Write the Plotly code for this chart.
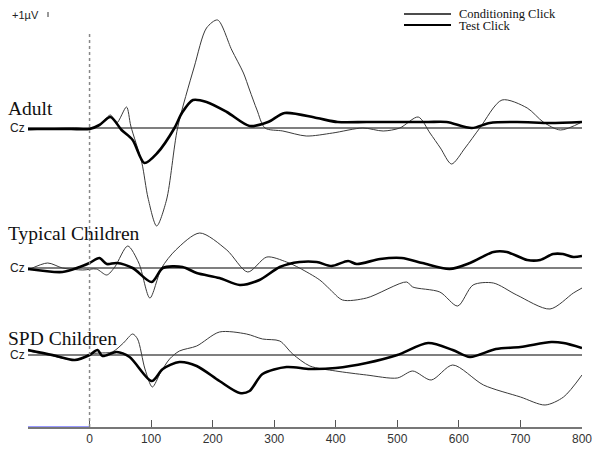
import plotly.graph_objects as go

# ---------------- data (time in ms, amplitude in µV relative to each baseline) -------------
adult_cond_t = [-100, -70, -40, -20, 0, 15, 34, 44, 60, 67, 85, 95, 109, 125, 143, 170, 190, 208, 231,
                250, 260, 272, 285, 314, 352, 395, 444, 477, 504, 534, 553, 570, 588, 610, 634, 670,
                711, 737, 765, 800]
adult_cond_v = [-0.2, -0.1, 0.0, 0.0, -0.1, 0.2, 1.3, 0.5, 2.1, 0.2, -3.5, -7.0, -9.8, -7.2, 0.0, 6.1,
                10.0, 10.8, 7.8, 5.5, 3.8, 1.8, 0.0, -0.3, -0.8, -0.5, 0.0, -0.3, 0.0, 1.1, -0.5, -2.0,
                -3.6, -2.0, 0.0, 2.8, 2.0, 0.6, -0.2, 0.6]

adult_test_t = [-100, -60, -30, 0, 16, 34, 52, 70, 89, 110, 138, 150, 168, 190, 223, 260, 290, 317,
                369, 403, 450, 500, 550, 580, 621, 650, 694, 748, 800]
adult_test_v = [-0.1, -0.1, -0.1, -0.1, 0.3, 1.1, -0.2, -1.2, -3.5, -2.5, 0.0, 1.5, 2.8, 2.6, 1.6, 0.2,
                0.6, 1.5, 1.0, 0.6, 0.6, 0.6, 0.6, 0.6, 0.0, 0.5, 0.6, 0.5, 0.6]

typ_cond_t = [-100, -68, -44, -11, 11, 28, 41, 62, 80, 98, 117, 140, 179, 223, 257, 288, 320, 341,
              374, 390, 411, 450, 515, 525, 569, 598, 623, 656, 694, 748, 786, 800]
typ_cond_v = [-0.2, 0.5, 0.0, -0.2, -0.1, -0.7, 0.1, 2.2, 0.5, -3.0, 0.0, 1.8, 3.5, 1.8, -0.4, 1.1,
              0.6, 0.0, -1.2, -2.1, -3.2, -3.0, -1.4, -1.9, -2.4, -3.8, -1.7, -1.5, -2.7, -4.1, -2.5,
              -2.0]

typ_test_t = [-100, -44, -16, 0, 16, 28, 44, 70, 101, 119, 151, 174, 211, 244, 276, 309, 341, 369,
              393, 420, 434, 472, 507, 541, 585, 618, 656, 678, 711, 732, 753, 769, 786, 800]
typ_test_v = [-0.1, -0.4, 0.1, 0.5, 1.0, 0.4, 0.5, 0.0, -1.4, 0.0, 0.1, -0.5, -1.0, -1.7, -1.2, 0.1,
              0.6, 0.6, 0.2, 0.7, 0.4, 0.9, 1.0, 0.5, -0.1, 0.5, 1.6, 1.6, 0.8, 0.8, 1.4, 1.4,
              1.1, 1.2]

spd_cond_t = [-100, -60, -21, 0, 16, 37, 55, 70, 78, 90, 102, 115, 130, 146, 174, 211, 255, 281, 309,
              330, 358, 400, 450, 500, 525, 555, 590, 640, 700, 740, 770, 800]
spd_cond_v = [0.4, -0.1, -0.5, 0.1, 0.2, 0.3, 1.2, 2.1, 1.6, -1.4, -3.2, -1.8, -0.4, 0.4, 0.9, 2.3,
              2.1, 1.6, 1.4, 0.1, -1.1, -1.6, -2.0, -2.3, -1.6, -2.5, -1.0, -3.0, -4.2, -5.0, -4.2,
              -2.0]

spd_test_t = [-100, -60, -24, 0, 13, 21, 44, 65, 101, 119, 146, 174, 211, 244, 260, 281, 320, 358,
              400, 450, 500, 550, 590, 618, 660, 700, 750, 770, 800]
spd_test_v = [0.5, 0.0, -0.5, 0.0, 0.5, -0.1, 0.3, -0.2, -2.6, -1.4, -0.7, -1.1, -2.6, -3.8, -3.6,
              -1.9, -1.2, -1.4, -1.3, -0.8, 0.0, 1.2, 0.5, -0.2, 0.6, 0.8, 1.3, 1.2, 0.7]

group_names = ["Adult", "Typical Children", "SPD Children"]
group_offsets = [29.9, 15.9, 7.2]          # µV offsets of each Cz baseline
x_ticks = [0, 100, 200, 300, 400, 500, 600, 700, 800]
legend_labels = ["Conditioning Click", "Test Click"]

# ---------------- layout helpers --------------------------------------------------------------
W, H = 601, 451
ML, MR, MT, MB = 28, 19, 0, 24
X0, X1 = -100, 800
Y0, Y1 = 0, (H - MT - MB) / 10.0
PW, PH = W - ML - MR, H - MT - MB


def dx(px):
    return X0 + (px - ML) / PW * (X1 - X0)


def dy(py):
    return Y1 - (py - MT) / PH * (Y1 - Y0)


def px_paper(px):
    return (px - ML) / PW


def py_paper(py):
    return 1 - (py - MT) / PH


THIN = dict(color="#3a3a3a", width=1, shape="spline", smoothing=0.8)
THICK = dict(color="#000000", width=2.6, shape="spline", smoothing=0.8)

series = [
    (adult_cond_t, adult_cond_v, adult_test_t, adult_test_v),
    (typ_cond_t, typ_cond_v, typ_test_t, typ_test_v),
    (spd_cond_t, spd_cond_v, spd_test_t, spd_test_v),
]

fig = go.Figure()

for off in group_offsets:
    fig.add_trace(go.Scatter(x=[X0, X1], y=[off, off], mode="lines",
                             line=dict(color="#555555", width=1.3), hoverinfo="skip",
                             showlegend=False))

for (ct, cv, tt, tv), off in zip(series, group_offsets):
    fig.add_trace(go.Scatter(x=ct, y=[v + off for v in cv], mode="lines", line=THIN,
                             showlegend=False))
    fig.add_trace(go.Scatter(x=tt, y=[v + off for v in tv], mode="lines", line=THICK,
                             showlegend=False))

# blue pre-stimulus segment on the axis
fig.add_trace(go.Scatter(x=[X0, 0], y=[0, 0], mode="lines", line=dict(color="#7777ff", width=1.5),
                         showlegend=False, cliponaxis=False, hoverinfo="skip"))

shapes = [
    dict(type="line", xref="x", yref="y", x0=0, x1=0, y0=0, y1=dy(34),
         line=dict(color="#888888", width=1.5, dash="dot")),
    # legend samples
    dict(type="line", xref="x", yref="y", x0=dx(404), x1=dx(451), y0=dy(14), y1=dy(14),
         line=dict(color="#111111", width=1.3)),
    dict(type="line", xref="x", yref="y", x0=dx(404), x1=dx(451), y0=dy(25), y1=dy(25),
         line=dict(color="#000000", width=2)),
    # +1µV scale mark
    dict(type="line", xref="x", yref="y", x0=dx(48), x1=dx(48), y0=dy(12), y1=dy(17),
         line=dict(color="#333333", width=1)),
]

serif = "Liberation Serif, Times New Roman, serif"
sans = "Liberation Sans, Arial, sans-serif"

annotations = [
    dict(x=px_paper(457), y=py_paper(14), text=legend_labels[0], xanchor="left", yanchor="middle",
         font=dict(family=serif, size=12.5, color="#111111")),
    dict(x=px_paper(457), y=py_paper(26), text=legend_labels[1], xanchor="left", yanchor="middle",
         font=dict(family=serif, size=12.5, color="#111111")),
    dict(x=px_paper(10), y=py_paper(15), text="+1µV", xanchor="left", yanchor="middle",
         font=dict(family=sans, size=11, color="#222222")),
]
label_py = [108, 233, 338]
for name, off, lp in zip(group_names, group_offsets, label_py):
    annotations.append(dict(x=px_paper(6), y=py_paper(lp), text=name, xanchor="left",
                            yanchor="middle", font=dict(family=serif, size=19.5, color="#111111")))
    annotations.append(dict(x=px_paper(8), y=(off - Y0) / (Y1 - Y0), text="Cz", xanchor="left",
                            yanchor="middle", font=dict(family=sans, size=12, color="#222222")))
for a in annotations:
    a.update(xref="paper", yref="paper", showarrow=False)

fig.update_layout(
    width=W, height=H, margin=dict(l=ML, r=MR, t=MT, b=MB),
    paper_bgcolor="white", plot_bgcolor="white",
    shapes=shapes, annotations=annotations, showlegend=False,
    xaxis=dict(range=[X0, X1], tickvals=x_ticks, ticktext=[str(t) for t in x_ticks],
               ticks="inside", ticklen=7, tickcolor="#555555", showgrid=False, zeroline=False,
               showline=True, linecolor="#777777", linewidth=1.5,
               tickfont=dict(family=sans, size=12, color="#333333")),
    yaxis=dict(range=[Y0, Y1], visible=False, showgrid=False, zeroline=False),
)

fig.write_html("out.html", config={"displayModeBar": False, "staticPlot": True})

# remove the browser's default page margin so the figure sits at the window origin
with open("out.html", encoding="utf-8") as f:
    html = f.read()
html = html.replace("<head>", "<head><style>html,body{margin:0;padding:0;overflow:hidden}</style>", 1)
with open("out.html", "w", encoding="utf-8") as f:
    f.write(html)
